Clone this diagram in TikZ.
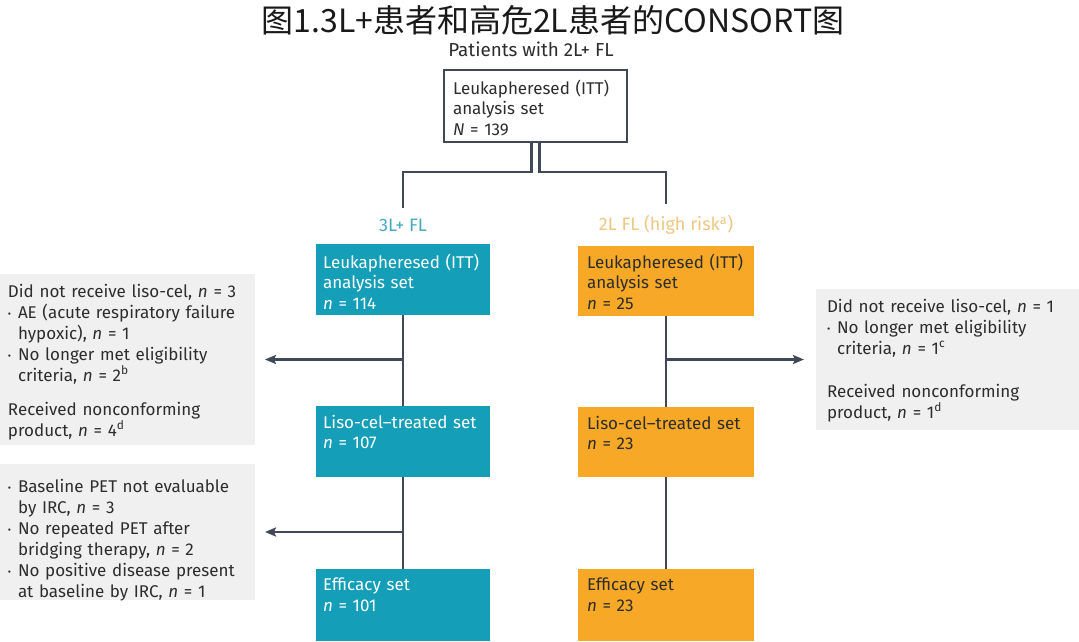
\documentclass[tikz,border=0pt]{standalone}
\usepackage{fontspec}
\setmainfont{Fira Sans}
\newfontfamily\cjkfont{Noto Sans CJK SC}
\usetikzlibrary{arrows.meta}
\definecolor{tealbox}{RGB}{20,158,184}
\definecolor{orangebox}{RGB}{247,168,38}
\definecolor{teallab}{RGB}{70,170,190}
\definecolor{orangelab}{RGB}{238,200,130}
\definecolor{greybox}{RGB}{240,240,240}
\definecolor{linec}{RGB}{65,72,88}
\definecolor{darktext}{RGB}{45,45,45}
\newcommand{\bul}{\par\hangindent=10pt\hangafter=1\noindent\makebox[10pt][l]{\raisebox{1pt}{\fontsize{10}{10}\selectfont\textbullet}}}
\begin{document}
\begin{tikzpicture}[x=1pt,y=-1pt,
  every node/.style={inner sep=0pt, outer sep=0pt},
  txt/.style={anchor=north west, align=left, font=\fontsize{17}{20.5}\selectfont},
  gtxt/.style={anchor=north west, align=left, text=darktext, font=\fontsize{17}{21}\selectfont},
  topbox/.style={draw=linec, line width=2.2pt, fill=white, minimum width=183pt, minimum height=72pt, anchor=north west},
  tbox/.style={fill=tealbox, minimum width=174pt, anchor=north west},
  obox/.style={fill=orangebox, minimum width=176pt, anchor=north west},
  gbox/.style={fill=greybox, anchor=north west},
  conn/.style={draw=linec, line width=2.4pt},
  arr/.style={draw=linec, line width=2.4pt, -{Stealth[length=11pt,width=9pt,inset=2pt]}},
  lab/.style={font=\fontsize{18}{20}\selectfont}
]
\fill[white] (0,0) rectangle (1079,642);
\useasboundingbox (0,0) rectangle (1079,642);

% title
\node[font=\cjkfont\fontsize{32}{32}\selectfont, text=black!90] (title) at (553,20) {图1.3L+患者和高危2L患者的CONSORT图};
\node[font=\fontsize{18.8}{20}\selectfont, text=darktext] (pat) at (531,49) {Patients with 2L+ FL};

% top box
\node[topbox] (top) at (444,70) {};
\node[txt, text=darktext, text width=175pt] (toptxt) at ([xshift=9pt,yshift=-10pt]top.north west) {Leukapheresed (ITT)\\analysis set\\\textit{N} = 139};

% arm labels
\node[lab, text=teallab] (lab3) at (403,225) {3L+ FL};
\node[lab, text=orangelab] (lab2) at (666,225) {2L FL (high risk\textsuperscript{a})};

% teal boxes
\node[tbox, minimum height=71pt] (t1) at (316,244) {};
\node[tbox, minimum height=71pt] (t2) at (316,406) {};
\node[tbox, minimum height=72pt] (t3) at (316,569) {};
\node[txt, text=white, text width=168pt] (t1txt) at ([xshift=7pt,yshift=-10pt]t1.north west) {Leukapheresed (ITT)\\analysis set\\\textit{n} = 114};
\node[txt, text=white, text width=168pt] (t2txt) at ([xshift=7pt,yshift=-9pt]t2.north west) {Liso-cel–treated set\\\textit{n} = 107};
\node[txt, text=white, text width=168pt] (t3txt) at ([xshift=7pt,yshift=-9pt]t3.north west) {Efficacy set\\\textit{n} = 101};

% orange boxes
\node[obox, minimum height=70pt] (o1) at (578,246) {};
\node[obox, minimum height=70pt] (o2) at (578,407) {};
\node[obox, minimum height=72pt] (o3) at (578,569) {};
\node[txt, text=darktext, text width=168pt] (o1txt) at ([xshift=9pt,yshift=-8pt]o1.north west) {Leukapheresed (ITT)\\analysis set\\\textit{n} = 25};
\node[txt, text=darktext, text width=168pt] (o2txt) at ([xshift=9pt,yshift=-9pt]o2.north west) {Liso-cel–treated set\\\textit{n} = 23};
\node[txt, text=darktext, text width=168pt] (o3txt) at ([xshift=9pt,yshift=-9pt]o3.north west) {Efficacy set\\\textit{n} = 23};

% grey boxes
\node[gbox, minimum width=255pt, minimum height=171pt] (g1) at (0,274) {};
\node[gbox, minimum width=255pt, minimum height=136pt] (g2) at (0,464) {};
\node[gbox, minimum width=263pt, minimum height=141pt] (gr) at (816,289) {};

\node[gtxt, text width=250pt] (g1txt) at ([xshift=8pt,yshift=-10pt]g1.north west) {Did not receive liso-cel, \textit{n} = 3
\bul AE (acute respiratory failure\newline hypoxic), \textit{n} = 1
\bul No longer met eligibility\newline criteria, \textit{n} = 2\textsuperscript{b}
\par\vspace{13pt}\noindent Received nonconforming\newline product, \textit{n} = 4\textsuperscript{d}\par};

\node[gtxt, text width=250pt] (g2txt) at ([xshift=8pt,yshift=-7pt]g2.north west) {\bul Baseline PET not evaluable\newline by IRC, \textit{n} = 3
\bul No repeated PET after\newline bridging therapy, \textit{n} = 2
\bul No positive disease present\newline at baseline by IRC, \textit{n} = 1\par};

\node[gtxt, text width=255pt] (grtxt) at ([xshift=11pt,yshift=-10pt]gr.north west) {Did not receive liso-cel, \textit{n} = 1
\bul No longer met eligibility\newline criteria, \textit{n} = 1\textsuperscript{c}
\par\vspace{22pt}\noindent Received nonconforming\newline product, \textit{n} = 1\textsuperscript{d}\par};

% connectors
\draw[conn] ([xshift=-4pt]top.south) -- ++(0,30) -| ([yshift=11pt]lab3.north);
\draw[conn] ([xshift=4pt]top.south) -- ++(0,30) -| ([yshift=11pt]lab2.north);
\draw[conn] (t1.south) -- (t2.north);
\draw[conn] (t2.south) -- (t3.north);
\draw[conn] (o1.south) -- (o2.north);
\draw[conn] (o2.south) -- (o3.north);
\draw[arr] (t1.south |- g1.east) -- ([xshift=10pt]g1.east);
\draw[arr] (t2.south |- g2.east) -- ([xshift=10pt]g2.east);
\draw[arr] (o1.south |- gr.west) -- ([xshift=-12pt]gr.west);
\end{tikzpicture}
\end{document}
